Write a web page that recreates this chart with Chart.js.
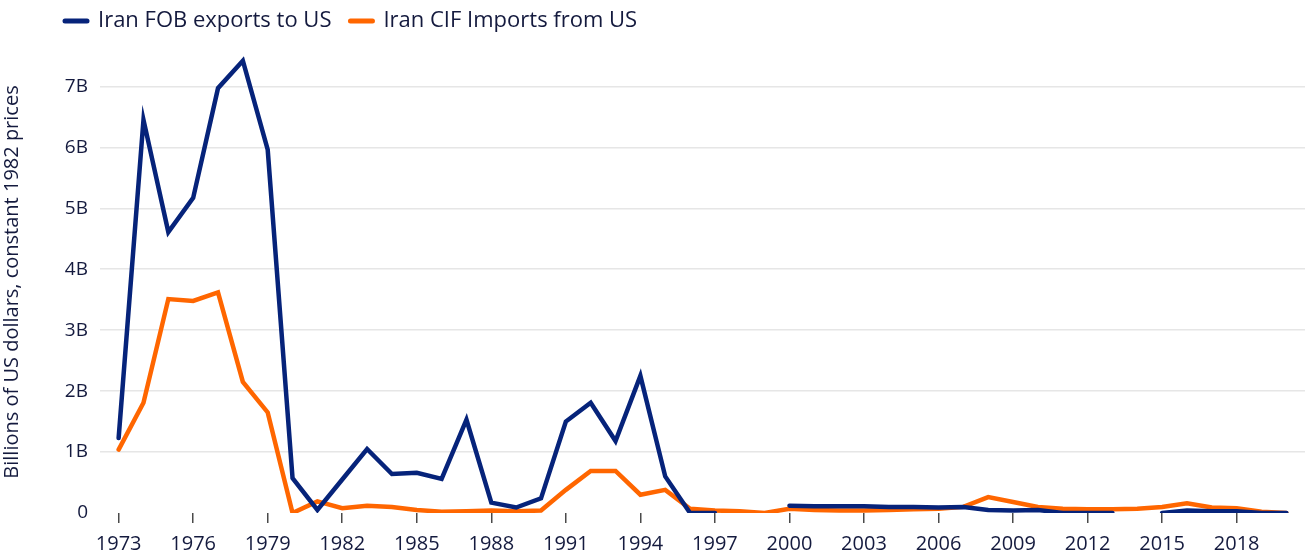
<!DOCTYPE html>
<html>
<head>
<meta charset="utf-8">
<script src="https://cdn.jsdelivr.net/npm/chart.js@4/dist/chart.umd.min.js"></script>
<style>
  html, body { margin: 0; padding: 0; background: #ffffff; }
  #wrap { width: 1305px; height: 556px; position: relative; }
</style>
</head>
<body>
<div id="wrap"><canvas id="c" width="1305" height="556"></canvas></div>
<script>
// ---- data (billions of US dollars, constant 1982 prices) ----
const years = [1973,1974,1975,1976,1977,1978,1979,1980,1981,1982,1983,1984,1985,1986,1987,1988,1989,1990,1991,1992,1993,1994,1995,1996,1997,1998,1999,2000,2001,2002,2003,2004,2005,2006,2007,2008,2009,2010,2011,2012,2013,2014,2015,2016,2017,2018,2019,2020];
const fobExportsToUS = [1.23,6.45,4.61,5.17,6.97,7.42,5.96,0.57,0.05,0.55,1.05,0.64,0.66,0.56,1.53,0.17,0.09,0.24,1.50,1.81,1.18,2.25,0.60,0.0,0.0,null,null,0.12,0.11,0.11,0.11,0.10,0.10,0.09,0.10,0.05,0.04,0.05,0.0,0.0,0.0,null,0.0,0.04,0.03,0.03,0.0,0.0];
const cifImportsFromUS = [1.04,1.81,3.51,3.48,3.62,2.15,1.65,0.0,0.19,0.08,0.12,0.10,0.05,0.02,0.03,0.04,0.03,0.04,0.38,0.69,0.69,0.30,0.38,0.07,0.04,0.03,0.0,0.07,0.05,0.04,0.04,0.05,0.06,0.07,0.10,0.26,0.18,0.10,0.07,0.06,0.06,0.07,0.10,0.16,0.09,0.08,0.02,0.0];
const xTickYears = [1973,1976,1979,1982,1985,1988,1991,1994,1997,2000,2003,2006,2009,2012,2015,2018];
const yTickValues = [0,1,2,3,4,5,6,7];
const seriesNames = ['Iran FOB exports to US', 'Iran CIF Imports from US'];

const BLUE = '#06237a';
const ORANGE = '#ff6600';
const TEXT = '#141a3e';
const FONT = "'Open Sans', 'DejaVu Sans', sans-serif";

const toPoints = arr => years.map((y, i) => ({ x: y, y: arr[i] }));

const legendShift = {
  id: 'legendShift',
  afterLayout(chart) {
    if (chart.legend) {
      chart.legend.left = 46;
      chart.legend.top = -9;
    }
  }
};

new Chart(document.getElementById('c'), {
  type: 'line',
  data: {
    datasets: [
      { label: seriesNames[0], data: toPoints(fobExportsToUS), borderColor: BLUE, backgroundColor: BLUE,
        borderWidth: 4.5, pointRadius: 0, tension: 0, spanGaps: false, borderCapStyle: 'round' },
      { label: seriesNames[1], data: toPoints(cifImportsFromUS), borderColor: ORANGE, backgroundColor: ORANGE,
        borderWidth: 4.5, pointRadius: 0, tension: 0, spanGaps: false, borderCapStyle: 'round' }
    ]
  },
  options: {
    responsive: false,
    animation: false,
    maintainAspectRatio: false,
    layout: { padding: { left: 0, right: 0, top: 0, bottom: 0 } },
    plugins: {
      legend: {
        display: true,
        position: 'top',
        align: 'start',
        labels: {
          usePointStyle: true,
          pointStyle: 'line',
          pointStyleWidth: 22,
          boxHeight: 22,
          padding: 19,
          color: TEXT,
          font: { family: FONT, size: 22 },
          generateLabels(chart) {
            const items = Chart.defaults.plugins.legend.labels.generateLabels(chart);
            items.forEach(it => { it.lineWidth = 5; it.lineCap = 'round'; it.pointStyle = 'line'; });
            return items;
          }
        }
      },
      tooltip: { enabled: false }
    },
    scales: {
      x: {
        type: 'linear',
        min: 1972.25,
        max: 2020.75,
        afterBuildTicks(scale) { scale.ticks = xTickYears.map(v => ({ value: v })); },
        afterFit(scale) { scale.height = 43; },
        ticks: {
          color: TEXT,
          font: { family: FONT, size: 20 },
          padding: 9,
          maxRotation: 0,
          autoSkip: false,
          callback: v => String(v)
        },
        grid: { display: true, drawOnChartArea: false, drawTicks: true, tickLength: 10, color: '#4a4a4a', lineWidth: 1.5 },
        border: { display: false }
      },
      y: {
        min: 0,
        max: 7.58,
        afterBuildTicks(scale) { scale.ticks = yTickValues.map(v => ({ value: v })); },
        afterFit(scale) { scale.width = 100; },
        ticks: {
          color: TEXT,
          font: { family: FONT, size: 19 },
          padding: 12,
          callback: v => (v === 0 ? '0' : v + 'B')
        },
        grid: {
          drawTicks: false,
          lineWidth: 1.5,
          color: ctx => (ctx.tick && ctx.tick.value === 0 ? 'rgba(0,0,0,0)' : '#e6e6e6')
        },
        border: { display: false },
        title: {
          display: true,
          text: 'Billions of US dollars, constant 1982 prices',
          color: TEXT,
          font: { family: FONT, size: 20 },
          padding: { top: 0, bottom: 10 }
        }
      }
    }
  },
  plugins: [legendShift]
});
</script>
</body>
</html>
